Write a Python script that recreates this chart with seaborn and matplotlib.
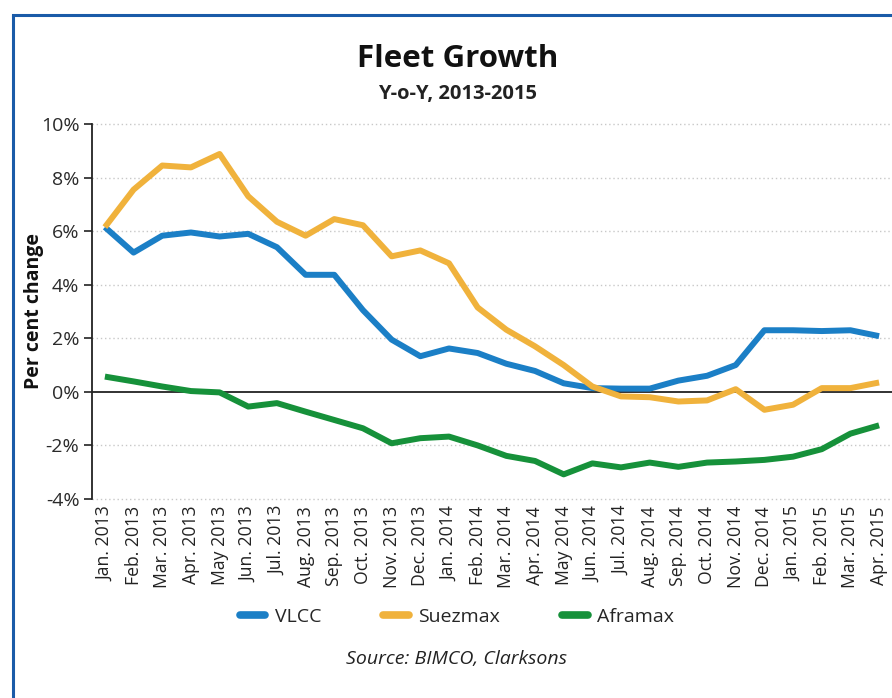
import matplotlib
matplotlib.use("Agg")
import matplotlib.pyplot as plt
from matplotlib.lines import Line2D
from matplotlib.ticker import FuncFormatter
import seaborn as sns
import pandas as pd

# Monthly year-on-year fleet growth, per cent
months = ["Jan. 2013", "Feb. 2013", "Mar. 2013", "Apr. 2013", "May 2013", "Jun. 2013",
          "Jul. 2013", "Aug. 2013", "Sep. 2013", "Oct. 2013", "Nov. 2013", "Dec. 2013",
          "Jan. 2014", "Feb. 2014", "Mar. 2014", "Apr. 2014", "May 2014", "Jun. 2014",
          "Jul. 2014", "Aug. 2014", "Sep. 2014", "Oct. 2014", "Nov. 2014", "Dec. 2014",
          "Jan. 2015", "Feb. 2015", "Mar. 2015", "Apr. 2015"]

vlcc = [6.15, 5.2, 5.83, 5.95, 5.8, 5.9, 5.4, 4.37, 4.37, 3.05, 1.95, 1.33,
        1.62, 1.45, 1.05, 0.78, 0.32, 0.14, 0.12, 0.12, 0.42, 0.6, 1.0, 2.3,
        2.3, 2.27, 2.3, 2.08]

suezmax = [6.15, 7.55, 8.45, 8.38, 8.88, 7.3, 6.35, 5.83, 6.45, 6.22, 5.06, 5.28,
           4.8, 3.15, 2.32, 1.7, 1.0, 0.2, -0.17, -0.2, -0.36, -0.32, 0.1, -0.67,
           -0.48, 0.14, 0.14, 0.35]

aframax = [0.57, 0.39, 0.2, 0.03, -0.02, -0.55, -0.42, -0.74, -1.05, -1.36, -1.92, -1.73,
           -1.67, -2.0, -2.39, -2.58, -3.08, -2.67, -2.82, -2.64, -2.8, -2.64, -2.6, -2.54,
           -2.42, -2.14, -1.56, -1.25]

series_names = ["VLCC", "Suezmax", "Aframax"]
colors = ["#1b7fc6", "#f0b23c", "#16913a"]

df = pd.DataFrame({
    "month": list(range(len(months))) * 3,
    "value": vlcc + suezmax + aframax,
    "series": [n for n in series_names for _ in months],
})

sns.set_theme(style="white")
plt.rcParams["font.family"] = ["Open Sans", "DejaVu Sans"]

fig = plt.figure(figsize=(8.92, 6.98), dpi=100)
ax = fig.add_axes([92 / 892, 1 - 499 / 698, 800 / 892, 375 / 698])

sns.lineplot(data=df, x="month", y="value", hue="series", hue_order=series_names,
             palette=colors, linewidth=4.3, ax=ax, legend=False)
for ln in ax.lines:
    ln.set_solid_joinstyle("round")
    ln.set_solid_capstyle("butt")

ax.set_xlim(-0.45, len(months) - 1 + 0.45)
ax.set_ylim(-4, 10)
ax.set_yticks(range(-4, 11, 2))
ax.yaxis.set_major_formatter(FuncFormatter(lambda v, p: f"{int(v)}%"))

# dotted grid, solid zero line
for yv in range(-4, 11, 2):
    if yv != 0:
        ax.axhline(yv, color="#c8c8c8", linestyle=(0, (1, 2)), linewidth=1.0, zorder=0,
                   clip_on=False)
ax.axhline(0, color="#222222", linewidth=1.3, zorder=1)

ax.set_xticks(range(len(months)))
ax.set_xticklabels(months, rotation=90, fontsize=12.7, color="#222222")
ax.tick_params(axis="x", length=0, pad=5)
ax.tick_params(axis="y", length=6, width=1.2, color="#222222", direction="out",
               labelsize=14, labelcolor="#2a2a2a", pad=3, left=True)

for side in ["top", "right", "bottom"]:
    ax.spines[side].set_visible(False)
ax.spines["left"].set_color("#222222")
ax.spines["left"].set_linewidth(1.3)

ax.set_xlabel("")
ax.set_ylabel("")
fig.text(34 / 892, 1 - 311 / 698, "Per cent change", rotation=90, ha="center", va="center",
         fontsize=14, fontweight="bold", color="#111111")

fig.text(458 / 892, 1 - 59 / 698, "Fleet Growth", ha="center", va="center",
         fontsize=22.5, fontweight="bold", color="#111111")
fig.text(458 / 892, 1 - 94 / 698, "Y-o-Y, 2013-2015", ha="center", va="center",
         fontsize=14.5, fontweight="bold", color="#222222")

handles = [Line2D([0], [0], color=c, linewidth=5.5, solid_capstyle="round") for c in colors]
fig.legend(handles, series_names, loc="center", bbox_to_anchor=(457 / 892, 1 - 617 / 698),
           ncol=3, frameon=False, fontsize=14, handlelength=1.3, handletextpad=0.5,
           columnspacing=3.2)

fig.text(457 / 892, 1 - 659 / 698, "Source: BIMCO, Clarksons", ha="center", va="center",
         fontsize=14, fontstyle="italic", color="#222222")

# frame lines along the left and top edges
border = "#1a5ba8"
fig.add_artist(Line2D([12.5 / 892, 12.5 / 892], [0, 1 - 14.5 / 698], color=border,
                      linewidth=2.2, transform=fig.transFigure))
fig.add_artist(Line2D([12.5 / 892, 1], [1 - 14.5 / 698, 1 - 14.5 / 698], color=border,
                      linewidth=2.2, transform=fig.transFigure, solid_capstyle="projecting"))

fig.savefig("out.png", dpi=100, facecolor="white")
